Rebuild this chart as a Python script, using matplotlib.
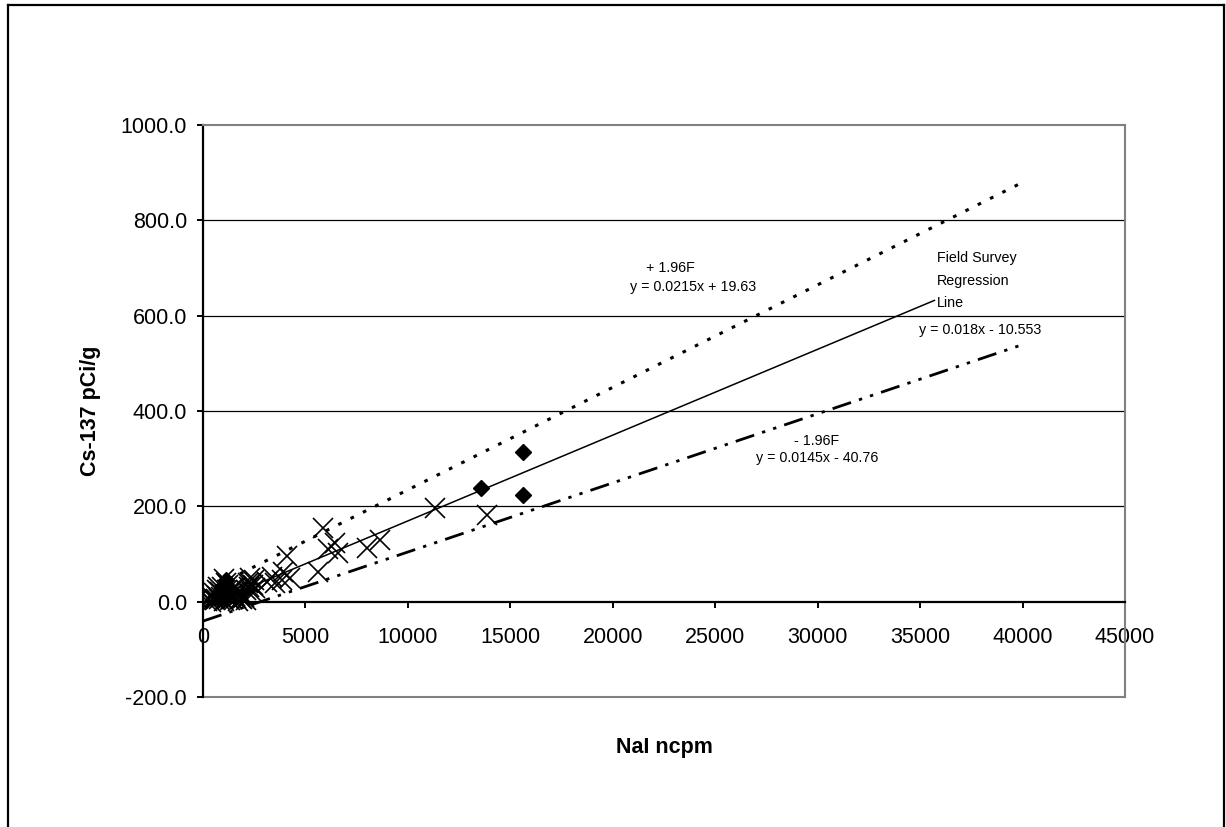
import matplotlib.pyplot as plt
from matplotlib.lines import Line2D

plt.rcParams['font.family'] = ['Liberation Sans', 'DejaVu Sans']

# field survey samples (x markers)
survey_x = [200, 300, 400, 500, 600, 700, 800, 850, 900, 950, 1000, 1050, 1100,
            1150, 1200, 1250, 1300, 1350, 1400, 1500, 1600, 1700, 1800, 1900,
            2000, 2100, 2200, 2250, 2300, 2400, 2450, 2500, 2550, 2100, 1600,
            700, 1000, 1200, 350, 550, 650, 750, 1450, 1550, 1750, 1850, 2350,
            3109, 3352, 3514, 3840, 3920, 4084, 4246, 5627,
            5872, 6116, 6442, 6605, 7988, 8638, 11300, 13845]
survey_y = [2, 5, 0, 8, 3, 12, 5, 20, 10, 30, 2, 15, 40,
            25, 8, 18, 3, 12, 5, 20, 8, 2, 15, 5,
            10, 25, 40, 30, 50, 20, 35, 45, 28, 3, 30,
            25, 48, 35, 12, 18, 6, 30, 28, 12, 22, 8, 38,
            42, 52, 39, 45, 62, 95, 49, 63,
            154, 110, 124, 102, 112, 130, 196, 182]

# confirmation samples (diamonds)
conf_x = [800, 950, 1000, 1050, 1100, 1200, 13553, 15603, 15603]
conf_y = [5, 10, 35, 20, 45, 15, 238, 314, 224]

# regression line and +/- 1.96F bounds (end points)
reg_x = [0, 35700]
reg_y = [-10.6, 632.0]
upper_x = [0, 39800]
upper_y = [19.6, 875.3]
lower_x = [0, 40000]
lower_y = [-40.8, 539.2]

fig = plt.figure(figsize=(12.26, 8.27), dpi=100)
ax = fig.add_axes([0.1656, 0.1572, 0.752, 0.6917])

ax.plot(upper_x, upper_y, color='black', lw=2.2, dashes=(1.2, 3.3))
ax.plot(lower_x, lower_y, color='black', lw=2, dashes=(7, 3, 1.2, 3, 1.2, 3))
ax.plot(reg_x, reg_y, color='black', lw=1.1)
ax.plot(survey_x, survey_y, ls='none', marker='x', ms=14, mew=1.2, color='black')
ax.plot(conf_x, conf_y, ls='none', marker='D', ms=8.5, color='black')

ax.set_xlim(0, 45000)
ax.set_ylim(-200, 1000)
ax.set_xticks(range(0, 45001, 5000))
ax.set_yticks(range(-200, 1001, 200))
ax.set_yticklabels([f'{v:.1f}' for v in range(-200, 1001, 200)])

for y in [200, 400, 600, 800]:
    ax.axhline(y, color='black', lw=0.9, zorder=0)
ax.axhline(-200, color='#808080', lw=1.5, zorder=0, clip_on=False)

ax.spines['bottom'].set_position(('data', 0))
ax.spines['bottom'].set_linewidth(1.6)
ax.spines['left'].set_linewidth(1.6)
for side in ['top', 'right']:
    ax.spines[side].set_color('#808080')
    ax.spines[side].set_linewidth(1.5)

ax.tick_params(axis='both', direction='out', length=4.5, width=1.4, labelsize=15.5)
ax.tick_params(axis='x', pad=14)
ax.tick_params(axis='y', pad=7)

ax.set_ylabel('Cs-137 pCi/g', fontsize=15.5, fontweight='bold', labelpad=14)
ax.set_xlabel('NaI ncpm', fontsize=15.5, fontweight='bold')
ax.xaxis.set_label_coords(0.5, -0.07)

fs = 10.3
ax.text(22793, 699, '+ 1.96F', fontsize=fs, ha='center', va='center')
ax.text(23915, 661, 'y = 0.0215x + 19.63', fontsize=fs, ha='center', va='center')
ax.text(35839, 720, 'Field Survey', fontsize=fs, ha='left', va='center')
ax.text(35839, 673, 'Regression', fontsize=fs, ha='left', va='center')
ax.text(35839, 627, 'Line', fontsize=fs, ha='left', va='center')
ax.text(37923, 570, 'y = 0.018x - 10.553', fontsize=fs, ha='center', va='center')
ax.text(29953, 336, '- 1.96F', fontsize=fs, ha='center', va='center')
ax.text(29953, 301, 'y = 0.0145x - 40.76', fontsize=fs, ha='center', va='center')

# outer chart border
for xs, ys in [([0.0065, 0.0065], [0.0, 0.9935]), ([0.0065, 0.9985], [0.9935, 0.9935]),
               ([0.9985, 0.9985], [0.0, 0.9935])]:
    fig.add_artist(Line2D(xs, ys, color='black', lw=1.6, transform=fig.transFigure))

fig.savefig('out.png', dpi=100)
